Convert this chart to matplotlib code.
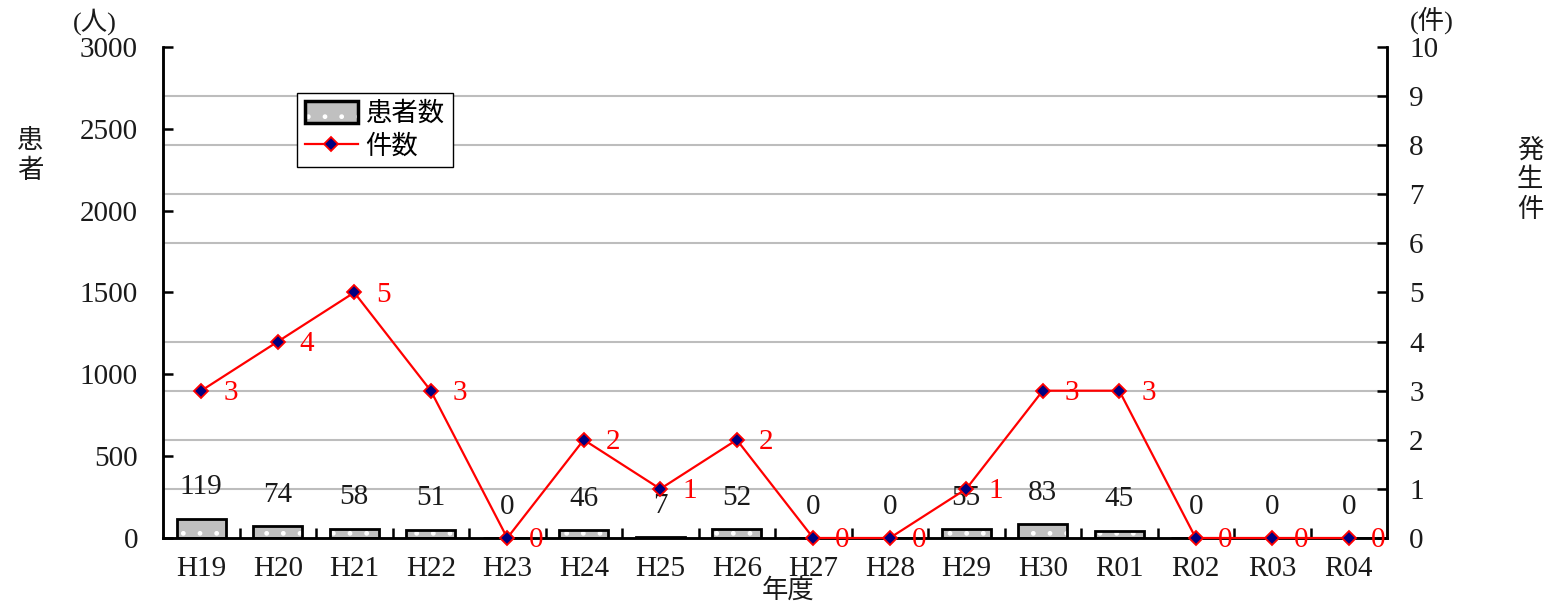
import matplotlib
matplotlib.use("Agg")
import matplotlib.pyplot as plt
from matplotlib.patches import Patch
from matplotlib.lines import Line2D
import numpy as np

plt.rcParams['font.family'] = ['Liberation Serif', 'Noto Sans CJK JP', 'DejaVu Sans']

years = ["H19", "H20", "H21", "H22", "H23", "H24", "H25", "H26", "H27", "H28",
         "H29", "H30", "R01", "R02", "R03", "R04"]
patients = [119, 74, 58, 51, 0, 46, 7, 52, 0, 0, 55, 83, 45, 0, 0, 0]
cases = [3, 4, 5, 3, 0, 2, 1, 2, 0, 0, 1, 3, 3, 0, 0, 0]

W, H = 1558, 607
fig = plt.figure(figsize=(W / 100, H / 100), dpi=100)
ax1 = fig.add_axes([163 / W, 1 - 538 / H, (1387 - 163) / W, (538 - 47) / H])
ax2 = ax1.twinx()

x = np.arange(len(years))
fs = 21      # numerals / latin
fsj = 19     # CJK
txtc = '#1a1a1a'

# grid lines
ax1.set_ylim(0, 3000)
ax1.set_xlim(-0.5, len(years) - 0.5)
ax1.set_yticks(np.arange(0, 3001, 500))
ax1.set_yticks(np.arange(300, 3001, 300), minor=True)
ax1.yaxis.grid(True, which='minor', color='#bdbdbd', lw=1.5)
ax1.yaxis.grid(False, which='major')
ax1.set_axisbelow(True)

# bars (hatched fill + black outline)
bw = 0.64
ax1.bar(x, patients, width=bw, color='#c0c0c0', edgecolor='white', hatch='.', lw=0, zorder=2)
ax1.bar(x, patients, width=bw, fill=False, edgecolor='black', lw=2, zorder=3)
for xi, v in zip(x, patients):
    ax1.annotate(str(v), (xi, v), xytext=(0, 22.5), textcoords='offset points',
                 ha='center', va='center', fontsize=fs, color=txtc)

# line
ax2.set_ylim(0, 10)
ax2.plot(x, cases, color='red', lw=1.6, marker='D', markersize=7,
         markerfacecolor='#000080', markeredgecolor='red', markeredgewidth=1.3,
         clip_on=False, zorder=5)
for xi, v in zip(x, cases):
    ax2.annotate(str(v), (xi, v), xytext=(21, -1.5), textcoords='offset points',
                 ha='center', va='center', fontsize=fs, color='red')

# spines
for ax in (ax1, ax2):
    ax.spines['top'].set_visible(False)
    for s in ('left', 'right', 'bottom'):
        ax.spines[s].set_linewidth(1.8)
        ax.spines[s].set_color('black')

ax1.tick_params(axis='y', which='major', direction='in', length=7, width=1.8,
                labelsize=fs, pad=18, labelcolor=txtc)
ax1.tick_params(axis='y', which='minor', length=0)
ax2.set_yticks(np.arange(0, 11, 1))
ax2.tick_params(axis='y', direction='in', length=7, width=1.8,
                labelsize=fs, pad=16, labelcolor=txtc)

ax1.set_xticks(x)
ax1.set_xticklabels(years)
ax1.set_xticks(np.arange(0.5, len(years) - 0.5, 1), minor=True)
ax1.tick_params(axis='x', which='major', length=0, labelsize=fs, pad=13, labelcolor=txtc)
ax1.tick_params(axis='x', which='minor', direction='in', length=7, width=1.8)

# axis texts
fig.text(95 / W, 1 - 22 / H, "(人)", ha='center', va='center', fontsize=fsj, color=txtc)
fig.text(1432 / W, 1 - 20 / H, "(件)", ha='center', va='center', fontsize=fsj, color=txtc)
fig.text(30 / W, 1 - 156 / H, "患\n者", ha='center', va='center', fontsize=fsj,
         color=txtc, linespacing=1.25)
fig.text(1530 / W, 1 - 180 / H, "発\n生\n件", ha='center', va='center', fontsize=fsj,
         color=txtc, linespacing=1.3)
fig.text(788 / W, 1 - 590 / H, "年度", ha='center', va='center', fontsize=fsj, color=txtc)

# legend
h_bar = (Patch(facecolor='#c0c0c0', edgecolor='white', hatch='.', lw=0),
         Patch(fill=False, edgecolor='black', lw=2.5))
h_line = Line2D([], [], color='red', lw=1.6, marker='D', markersize=7,
                markerfacecolor='#000080', markeredgecolor='red', markeredgewidth=1.3)
leg = ax2.legend([h_bar, h_line], ["患者数", "件数"], loc='upper left',
                 bbox_to_anchor=((297 - 163) / 1224, (538 - 93) / 491),
                 prop={'size': fsj}, frameon=True, fancybox=False, framealpha=1,
                 edgecolor='black', borderpad=0.3, handlelength=2.0,
                 handleheight=0.9, handletextpad=0.3, labelspacing=0.3,
                 borderaxespad=0)
leg.get_frame().set_linewidth(1.0)

fig.savefig("out.png", dpi=100)
